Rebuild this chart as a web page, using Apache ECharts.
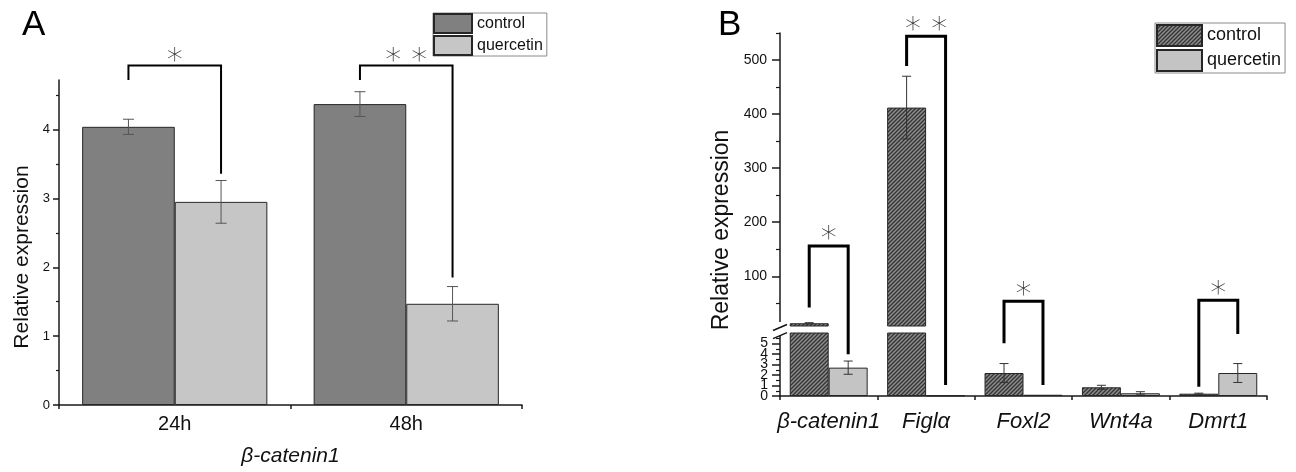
<!DOCTYPE html>
<html>
<head>
<meta charset="utf-8">
<script src="https://cdn.jsdelivr.net/npm/echarts@6/dist/echarts.min.js"></script>
<style>
  html, body { margin: 0; padding: 0; background: #fff; }
  #chart { width: 1296px; height: 472px; }
</style>
</head>
<body>
<div id="chart"></div>
<script>
// ---- panel A : beta-catenin1 over time ----
const timeCats = ['24h', '48h'];
const aControl = [4.04, 4.37];
const aControlErr = [0.11, 0.18];
const aQuer = [2.95, 1.47];
const aQuerErr = [0.31, 0.25];
const aTicks = [0, 1, 2, 3, 4];
const aMinorTicks = [0.5, 1.5, 2.5, 3.5, 4.5];
const aMax = 4.72;

// ---- panel B : genes, broken y axis ----
const genes = ['β-catenin1', 'Figlα', 'Foxl2', 'Wnt4a', 'Dmrt1'];
const bControl = [13.1, 412, 2.19, 0.83, 0.22];
const bControlErr = [1, 58, 0.9, 0.19, 0.05];
const bQuer = [2.7, 0.05, 0.12, 0.26, 2.19];
const bQuerErr = [0.63, 0, 0, 0.15, 0.9];
const bUpperTicks = [100, 200, 300, 400, 500];
const bUpperMinorTicks = [50, 150, 250, 350, 450, 550];
const bLowerTicks = [0, 1, 2, 3, 4, 5];
const bLowerMinorTicks = [0.5, 1.5, 2.5, 3.5, 4.5, 5.5];
const bUpperMin = 8, bUpperMax = 550, bLowerMax = 6;

// significance brackets: [category, left foot, top, right foot, stars]
const aBrackets = [
  [0, 4.72, 4.93, 3.36, '*'],
  [1, 4.72, 4.93, 1.85, '* *']
];
// feet sit on the upper ('u') or lower ('l') part of the broken axis, top is on the upper part
const bBrackets = [
  [0, ['u', 42], 156, ['l', 3.97], '*'],
  [1, ['u', 489], 544, ['l', 1.05], '* *'],
  [2, ['l', 5.02], 53.8, ['l', 1.05], '*'],
  [4, ['l', 0.89], 55.6, ['l', 5.9], '*']
];

const FONT = "'Liberation Sans', Arial, sans-serif";
const AXIS = '#1a1a1a';

function hatch() {
  const c = document.createElement('canvas');
  c.width = 4; c.height = 4;
  const g = c.getContext('2d');
  g.fillStyle = '#8c8c8c';
  g.fillRect(0, 0, 4, 4);
  g.strokeStyle = '#333';
  g.lineWidth = 1.3;
  g.beginPath();
  g.moveTo(0, 4); g.lineTo(4, 0);
  g.moveTo(-1, 1); g.lineTo(1, -1);
  g.moveTo(3, 5); g.lineTo(5, 3);
  g.stroke();
  return c;
}
const hatchFill = { image: hatch(), repeat: 'repeat' };

function errorBarItem(cap, color) {
  return function (params, api) {
    const cat = api.value(0), v = api.value(1), e = api.value(2), side = api.value(3);
    const band = api.size([1, 0], [cat, v])[0];
    const cx = api.coord([cat, v])[0] + side * 0.2 * band;
    const yt = api.coord([cat, v + e])[1];
    const yb = api.coord([cat, v - e])[1];
    const st = { stroke: color, lineWidth: 1 };
    return {
      type: 'group',
      children: [
        { type: 'line', shape: { x1: cx, y1: yt, x2: cx, y2: yb }, style: st },
        { type: 'line', shape: { x1: cx - cap / 2, y1: yt, x2: cx + cap / 2, y2: yt }, style: st },
        { type: 'line', shape: { x1: cx - cap / 2, y1: yb, x2: cx + cap / 2, y2: yb }, style: st }
      ]
    };
  };
}

function errRows(ctrl, ctrlErr, quer, querErr, keep) {
  const rows = [];
  ctrl.forEach((v, i) => { if (keep(v) && ctrlErr[i] > 0) rows.push([i, v, ctrlErr[i], -1]); });
  quer.forEach((v, i) => { if (keep(v) && querErr[i] > 0) rows.push([i, v, querErr[i], 1]); });
  return rows;
}

function valueAxis(grid, min, max, ticks, labelSize, tickLen, margin, labels) {
  return {
    type: 'value', gridIndex: grid, min: min, max: max,
    axisLine: { show: true, lineStyle: { color: AXIS, width: 1.5 } },
    axisTick: { show: true, length: tickLen, customValues: ticks, lineStyle: { color: AXIS, width: 1.5 } },
    axisLabel: {
      show: labels, customValues: ticks, fontSize: labelSize, color: '#111', fontFamily: FONT, margin: margin,
      showMinLabel: true, showMaxLabel: true
    },
    splitLine: { show: false }
  };
}
function minorAxis(grid, min, max, ticks, tickLen) {
  return {
    type: 'value', gridIndex: grid, min: min, max: max, position: 'left',
    axisLine: { show: false },
    axisTick: { show: true, length: tickLen, customValues: ticks, lineStyle: { color: AXIS, width: 1.2 } },
    axisLabel: { show: false },
    splitLine: { show: false }
  };
}
function boundaryTicks(grid, cats, len) {
  return {
    type: 'category', gridIndex: grid, data: cats, position: 'bottom',
    axisLine: { show: false, onZero: false },
    axisTick: { show: true, length: len, lineStyle: { color: AXIS, width: 1.5 } },
    axisLabel: { show: false }
  };
}

const barBorder = { borderColor: '#262626', borderWidth: 1 };

const option = {
  animation: false,
  backgroundColor: '#fff',
  textStyle: { fontFamily: FONT },
  grid: [
    { left: 59, right: 774, top: 80, bottom: 66 },
    { left: 780, right: 29, top: 33, bottom: 146 },
    { left: 780, right: 29, top: 333, bottom: 76 }
  ],
  legend: [
    {
      data: ['control_A', 'quercetin_A'],
      formatter: n => n.split('_')[0],
      orient: 'vertical', left: 433, top: 13,
      itemWidth: 38, itemHeight: 19, itemGap: 1,
      padding: [0, 4, 0, 0],
      borderColor: '#8a8a8a', borderWidth: 1,
      icon: 'rect', selectedMode: false,
      textStyle: { fontSize: 16, color: '#111', fontFamily: FONT }
    },
    {
      data: ['control_B', 'quercetin_B'],
      formatter: n => n.split('_')[0],
      orient: 'vertical', left: 1155, top: 23,
      itemWidth: 45, itemHeight: 21, itemGap: 2,
      padding: [1, 4, 1, 1],
      borderColor: '#8a8a8a', borderWidth: 1,
      icon: 'rect', selectedMode: false,
      textStyle: { fontSize: 18, color: '#111', fontFamily: FONT }
    }
  ],
  xAxis: [
    {
      type: 'category', gridIndex: 0, data: timeCats, position: 'bottom',
      axisLine: { onZero: false, lineStyle: { color: AXIS, width: 1.5 } },
      axisTick: { alignWithLabel: true, length: 7, lineStyle: { color: AXIS, width: 1.5 } },
      axisLabel: { fontSize: 20, color: '#111', fontFamily: FONT, margin: 9, interval: 0 },
      name: 'β-catenin1', nameLocation: 'middle', nameGap: 41,
      nameTextStyle: { fontSize: 21, fontStyle: 'italic', color: '#111', fontFamily: FONT }
    },
    boundaryTicks(0, timeCats, 4),
    { type: 'category', gridIndex: 1, data: genes, show: false },
    {
      type: 'category', gridIndex: 2, data: genes, position: 'bottom',
      axisLine: { onZero: false, lineStyle: { color: AXIS, width: 1.5 } },
      axisTick: { alignWithLabel: true, length: 8, interval: 0, lineStyle: { color: AXIS, width: 1.5 } },
      axisLabel: { fontSize: 22, fontStyle: 'italic', color: '#111', fontFamily: FONT, margin: 15, interval: 0 }
    },
    boundaryTicks(2, genes, 4)
  ],
  yAxis: [
    valueAxis(0, 0, aMax, aTicks, 13, 6, 9, true),
    minorAxis(0, 0, aMax, aMinorTicks, 3),
    valueAxis(1, bUpperMin, bUpperMax, bUpperTicks, 14, 8, 13, true),
    minorAxis(1, bUpperMin, bUpperMax, bUpperMinorTicks, 4),
    // lower part: labels crowd each other, drawn below so none get dropped
    valueAxis(2, 0, bLowerMax, bLowerTicks, 14, 8, 13, false),
    minorAxis(2, 0, bLowerMax, bLowerMinorTicks, 4)
  ],
  series: [
    { name: 'control_A', type: 'bar', xAxisIndex: 0, yAxisIndex: 0, data: aControl,
      barGap: 0, barCategoryGap: '20%', itemStyle: Object.assign({ color: '#808080' }, barBorder) },
    { name: 'quercetin_A', type: 'bar', xAxisIndex: 0, yAxisIndex: 0, data: aQuer,
      barGap: 0, barCategoryGap: '20%', itemStyle: Object.assign({ color: '#c6c6c6' }, barBorder) },
    { type: 'custom', xAxisIndex: 0, yAxisIndex: 0, z: 5,
      renderItem: errorBarItem(11, '#555'), encode: { x: 0, y: 1 },
      data: errRows(aControl, aControlErr, aQuer, aQuerErr, () => true) },

    { name: 'control_B', type: 'bar', xAxisIndex: 2, yAxisIndex: 2, data: bControl,
      barGap: 0, barCategoryGap: '20%', itemStyle: Object.assign({ color: hatchFill }, barBorder) },
    { name: 'quercetin_B', type: 'bar', xAxisIndex: 2, yAxisIndex: 2, data: bQuer,
      barGap: 0, barCategoryGap: '20%', itemStyle: Object.assign({ color: '#c4c4c4' }, barBorder) },
    { type: 'custom', xAxisIndex: 2, yAxisIndex: 2, z: 5,
      renderItem: errorBarItem(9, '#333'), encode: { x: 0, y: 1 },
      data: errRows(bControl, bControlErr, bQuer, bQuerErr, v => v > bUpperMin) },

    { name: 'control_B', type: 'bar', xAxisIndex: 3, yAxisIndex: 4, data: bControl,
      barGap: 0, barCategoryGap: '20%', itemStyle: Object.assign({ color: hatchFill }, barBorder) },
    { name: 'quercetin_B', type: 'bar', xAxisIndex: 3, yAxisIndex: 4, data: bQuer,
      barGap: 0, barCategoryGap: '20%', itemStyle: Object.assign({ color: '#c4c4c4' }, barBorder) },
    { type: 'custom', xAxisIndex: 3, yAxisIndex: 4, z: 5,
      renderItem: errorBarItem(9, '#333'), encode: { x: 0, y: 1 },
      data: errRows(bControl, bControlErr, bQuer, bQuerErr, v => v < bLowerMax) }
  ]
};

const chart = echarts.init(document.getElementById('chart'), null, { renderer: 'canvas' });
chart.setOption(option);

// annotations placed through the axes
const xPx = (ax, v) => chart.convertToPixel({ xAxisIndex: ax }, v);
const yPx = (ax, v) => chart.convertToPixel({ yAxisIndex: ax }, v);
const gfx = [];

function bracket(xl, yl, xr, yr, yt, width, stars, lift) {
  gfx.push({
    type: 'polyline', z: 10,
    shape: { points: [[xl, yl], [xl, yt], [xr, yt], [xr, yr]] },
    style: { stroke: '#000', lineWidth: width, fill: null }
  });
  gfx.push({
    type: 'text', z: 10, x: (xl + xr) / 2, y: yt - lift + 8,
    style: { text: stars, fontSize: 32, fill: '#333', align: 'center', verticalAlign: 'middle', fontFamily: "'DejaVu Sans', sans-serif", fontWeight: 200 }
  });
}

const bandA = xPx(0, 1) - xPx(0, 0);
aBrackets.forEach(b => {
  const c = xPx(0, b[0]);
  bracket(c - 0.2 * bandA, yPx(0, b[1]), c + 0.2 * bandA, yPx(0, b[3]), yPx(0, b[2]), 2, b[4], 12);
});

const bandB = xPx(3, 1) - xPx(3, 0);
const footY = f => f[0] === 'u' ? yPx(2, f[1]) : yPx(4, f[1]);
bBrackets.forEach(b => {
  const c = xPx(3, b[0]);
  bracket(c - 0.2 * bandB, footY(b[1]), c + 0.2 * bandB, footY(b[3]), yPx(2, b[2]), 3, b[4], 14);
});

// lower y labels of panel B, all kept even though they overlap
const axisX = xPx(3, 0) - bandB / 2;
bLowerTicks.forEach(v => {
  gfx.push({ type: 'text', z: 10, x: axisX - 12, y: yPx(4, v),
    style: { text: String(v), fontSize: 14, fill: '#111', align: 'right', verticalAlign: 'middle', fontFamily: FONT } });
});

// axis break marks between the two parts of panel B
const upBottom = yPx(2, bUpperMin), lowTop = yPx(4, bLowerMax);
gfx.push({ type: 'rect', z: 9, shape: { x: axisX - 3, y: upBottom - 4, width: 6, height: lowTop - upBottom + 7 }, style: { fill: '#fff' } });
[upBottom + 1.5, lowTop + 2.7].forEach(yc => {
  gfx.push({ type: 'line', z: 10, shape: { x1: axisX - 7, y1: yc + 3, x2: axisX + 7, y2: yc - 3 }, style: { stroke: '#111', lineWidth: 1.4 } });
});

// panel letters and y titles
gfx.push({ type: 'text', z: 10, x: 22, y: 25, style: { text: 'A', fontSize: 35, fill: '#000', verticalAlign: 'middle', fontFamily: FONT } });
gfx.push({ type: 'text', z: 10, x: 718, y: 25, style: { text: 'B', fontSize: 35, fill: '#000', verticalAlign: 'middle', fontFamily: FONT } });
gfx.push({ type: 'text', z: 10, x: 22, y: 257, rotation: Math.PI / 2,
  style: { text: 'Relative expression', fontSize: 21, fill: '#111', align: 'center', verticalAlign: 'middle', fontFamily: FONT } });
gfx.push({ type: 'text', z: 10, x: 722, y: 230, rotation: Math.PI / 2,
  style: { text: 'Relative expression', fontSize: 23, fill: '#111', align: 'center', verticalAlign: 'middle', fontFamily: FONT } });

chart.setOption({ graphic: gfx });
</script>
</body>
</html>
